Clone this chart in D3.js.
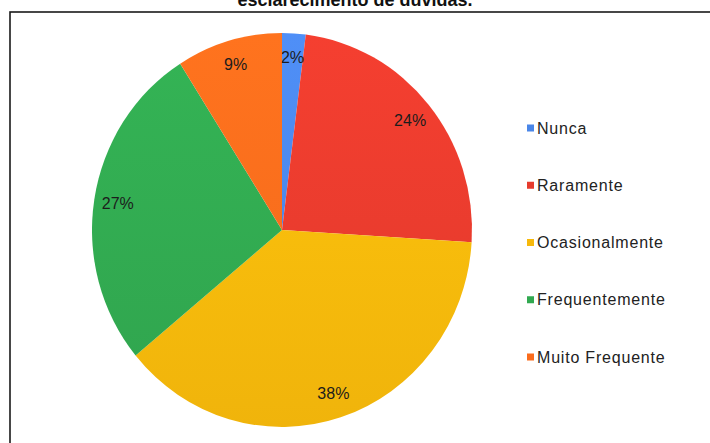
<!DOCTYPE html>
<html>
<head>
<meta charset="utf-8">
<script src="https://cdn.jsdelivr.net/npm/d3@7/dist/d3.min.js"></script>
<style>
  html, body { margin: 0; padding: 0; background: #fff; }
  svg { display: block; }
</style>
</head>
<body>
<svg id="chart" width="710" height="443"></svg>
<script>
// Answer categories and their shares (%)
const categories = ["Nunca", "Raramente", "Ocasionalmente", "Frequentemente", "Muito Frequente"];
const shares = [2, 24, 38, 27, 9];
const colors = ["#4a86e8", "#e63b2d", "#f7b90b", "#31a950", "#fa6c1c"];
const titleText = "esclarecimento de dúvidas.";

const svg = d3.select("#chart");
const W = 710, H = 443;

// Frame around the chart area
svg.append("rect")
  .attr("x", 10).attr("y", 12)
  .attr("width", W + 20).attr("height", H + 20)
  .attr("fill", "#fff")
  .attr("stroke", "#1a1a1a")
  .attr("stroke-width", 1.6);

// Title (second line, partly above the view)
svg.append("text")
  .attr("x", 355).attr("y", 6)
  .attr("text-anchor", "middle")
  .attr("font-family", "Liberation Sans, Arial, sans-serif")
  .attr("font-weight", "bold")
  .attr("font-size", 18)
  .attr("fill", "#111")
  .text(titleText);

// Pie geometry
const cx = 282, cy = 230, rx = 190, ry = 197;
const data = categories.map((c, i) => ({ cat: c, value: shares[i], color: colors[i] }));

const pie = d3.pie().value(d => d.value).sort(null);
const arcs = pie(data);
const arc = d3.arc().innerRadius(0).outerRadius(rx);

// Soft vertical shading per slice
const defs = svg.append("defs");
data.forEach((d, i) => {
  const g = defs.append("linearGradient")
    .attr("id", "grad" + i)
    .attr("gradientUnits", "userSpaceOnUse")
    .attr("x1", 0).attr("y1", -rx).attr("x2", 0).attr("y2", rx);
  const base = d3.color(d.color);
  g.append("stop").attr("offset", "0%").attr("stop-color", base.brighter(0.18));
  g.append("stop").attr("offset", "100%").attr("stop-color", base.darker(0.08));
});

const pieG = svg.append("g")
  .attr("transform", `translate(${cx},${cy}) scale(1,${ry / rx})`);

pieG.selectAll("path")
  .data(arcs)
  .join("path")
  .attr("d", arc)
  .attr("fill", (d, i) => `url(#grad${i})`);

// Percentage labels inside the slices
const labelR = 0.875;
svg.append("g").selectAll("text")
  .data(arcs)
  .join("text")
  .attr("x", d => cx + Math.sin((d.startAngle + d.endAngle) / 2) * rx * labelR)
  .attr("y", d => cy - Math.cos((d.startAngle + d.endAngle) / 2) * ry * labelR)
  .attr("text-anchor", "middle")
  .attr("dominant-baseline", "central")
  .attr("font-family", "Liberation Sans, Arial, sans-serif")
  .attr("font-size", 16)
  .attr("fill", "#1c1c1c")
  .text(d => d.data.value + "%");

// Legend
const legendY = d3.scalePoint().domain(categories).range([128, 357]);
const legend = svg.append("g").selectAll("g")
  .data(data)
  .join("g")
  .attr("transform", d => `translate(527,${legendY(d.cat)})`);

legend.append("rect")
  .attr("x", 0).attr("y", -3.5)
  .attr("width", 7).attr("height", 7)
  .attr("fill", d => d.color);

legend.append("text")
  .attr("x", 10).attr("y", 0)
  .attr("dominant-baseline", "central")
  .attr("font-family", "Liberation Sans, Arial, sans-serif")
  .attr("font-size", 16)
  .attr("letter-spacing", 0.8)
  .attr("fill", "#222")
  .text(d => d.cat);
</script>
</body>
</html>
